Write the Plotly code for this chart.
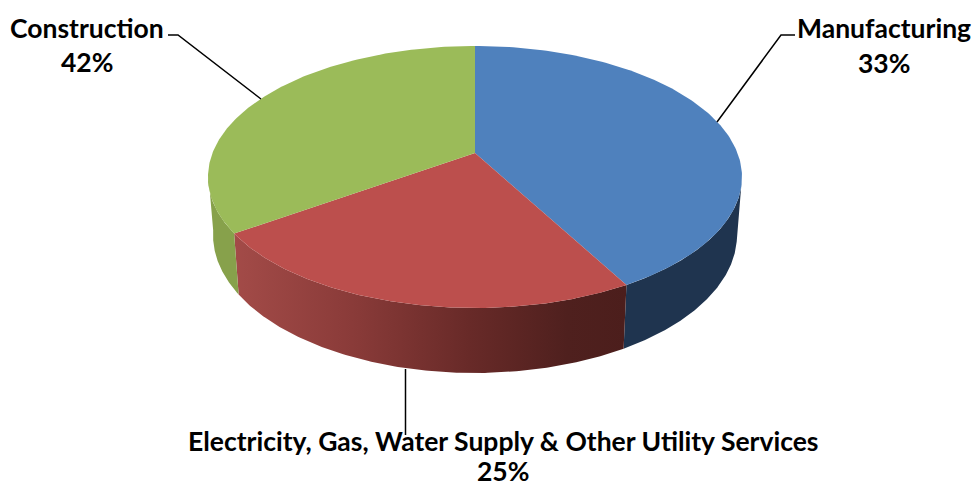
import numpy as np
import plotly.graph_objects as go

# Data
categories = ["Manufacturing", "Electricity, Gas, Water Supply & Other Utility Services", "Construction"]
printed_pct = [33, 25, 42]            # percentages printed on the labels
drawn_shares = [40.4, 27.5, 32.1]     # shares of the circle the slices actually occupy
top_colors = ["#4f81bd", "#bc4f4d", "#9bbb59"]

W, H = 975, 487
TOP = dict(cx=475, cy=177, rx=267, ry=131)
LOW = dict(cx=475, cy=235, rx=262, ry=138)
APEX = (475, 153)


def rim(e, a0, a1, n=160):
    t = np.radians(np.linspace(a0, a1, n))
    return e["cx"] + e["rx"] * np.sin(t), e["cy"] - e["ry"] * np.cos(t)


edges = np.concatenate([[0], np.cumsum(drawn_shares)]) / sum(drawn_shares) * 360

fig = go.Figure()


def wall(a0, a1, **style):
    xt, yt = rim(TOP, a0, a1)
    xl, yl = rim(LOW, a0, a1)
    fig.add_trace(go.Scatter(
        x=np.r_[xt, xl[::-1], xt[0]], y=np.r_[yt, yl[::-1], yt[0]],
        mode="lines", line=dict(width=0), fill="toself",
        hoverinfo="skip", showlegend=False, **style))


# Side walls
wall(90, edges[1], fillcolor="#1f344f")
wall(edges[1], edges[2], fillcolor="#a04845", fillgradient=dict(
    type="horizontal",
    colorscale=[[0, "#a34b48"], [0.3, "#8a3b39"], [0.6, "#682a28"], [0.85, "#4f201e"], [1, "#4c1e1c"]]))
wall(edges[2], 272, fillcolor="#87a14b")

# Top faces
for i, name in enumerate(categories):
    x, y = rim(TOP, edges[i], edges[i + 1])
    fig.add_trace(go.Scatter(
        x=np.r_[APEX[0], x, APEX[0]], y=np.r_[APEX[1], y, APEX[1]],
        mode="lines", line=dict(width=0), fill="toself", fillcolor=top_colors[i],
        name=name, hoverinfo="name", showlegend=False))

# Leader lines
leaders = [
    ([717, 781, 795], [122, 35, 35]),
    ([405.5, 405.5], [369, 435]),
    ([168, 178, 261], [35, 35, 99]),
]
for lx, ly in leaders:
    fig.add_trace(go.Scatter(x=lx, y=ly, mode="lines", line=dict(color="black", width=1.5),
                             hoverinfo="skip", showlegend=False))

# Labels
label_pos = [(884, 28, 63), (503, 441, 470.5), (87, 28, 62)]
for name, pct, (lx, y1, y2) in zip(categories, printed_pct, label_pos):
    for txt, yy in ((name, y1), (f"{pct}%", y2)):
        fig.add_annotation(x=lx, y=yy, text=f"<b>{txt}</b>", showarrow=False,
                           xanchor="center", yanchor="middle",
                           font=dict(family="Lato", size=26.5, color="black"))

fig.update_layout(
    width=W, height=H, margin=dict(l=0, r=0, t=0, b=0),
    paper_bgcolor="white", plot_bgcolor="white", showlegend=False,
    xaxis=dict(range=[0, W], visible=False, fixedrange=True),
    yaxis=dict(range=[H, 0], visible=False, fixedrange=True),
)
fig.write_html("out.html", config=dict(displayModeBar=False),
               post_script="document.body.style.margin='0';document.body.style.overflow='hidden';"
                           "var s=document.createElement('style');"
                           "s.textContent='text{font-variant-ligatures:none}';"
                           "document.head.appendChild(s);")
